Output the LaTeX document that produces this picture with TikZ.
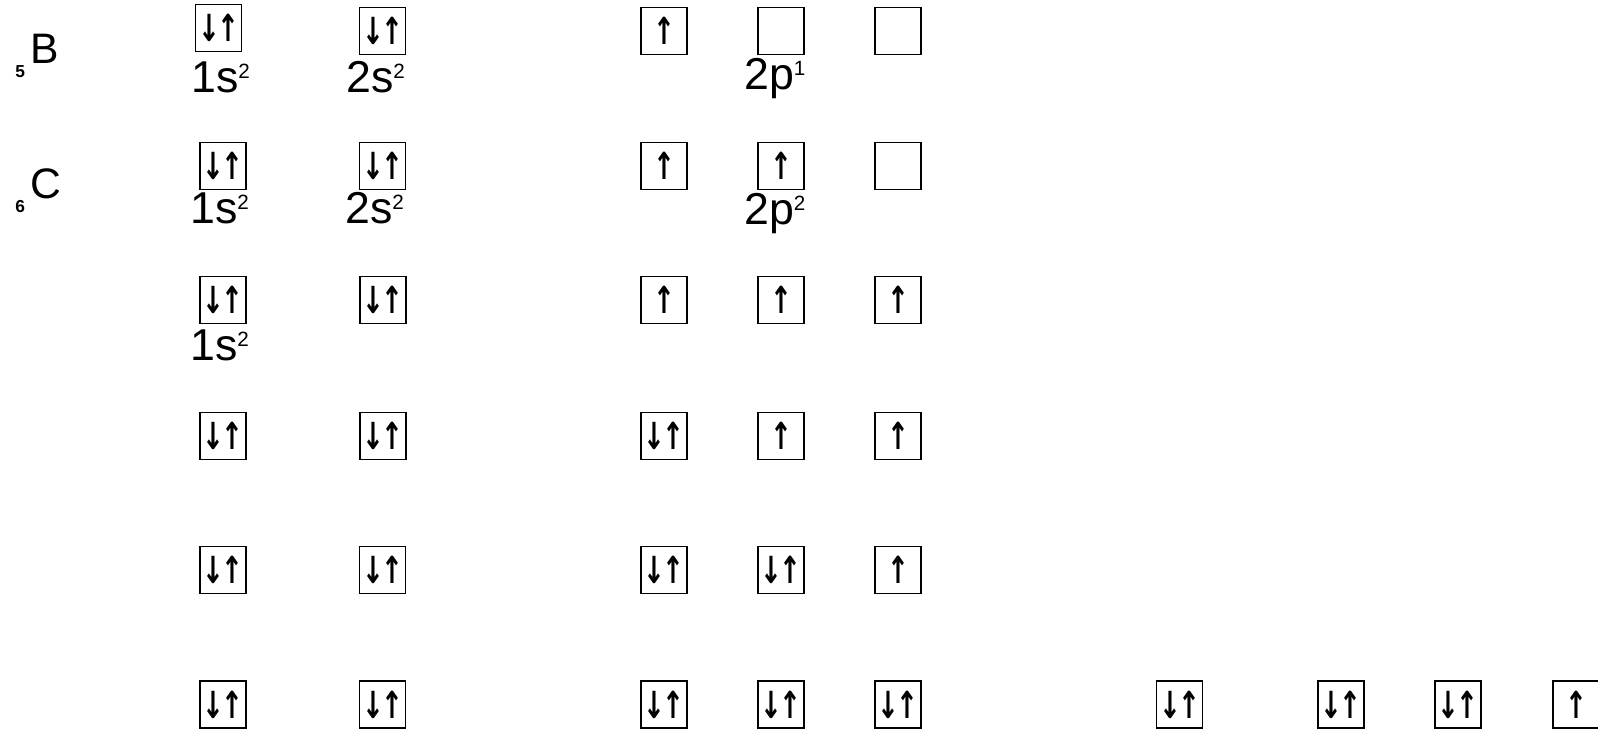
\documentclass[tikz,border=0pt]{standalone}
\usepackage{graphicx}
\usepackage{fontspec}
\setmainfont{Liberation Sans}
\newfontfamily\arrowfont{DejaVu Sans}
\newcommand\orbsup[1]{\raisebox{10.5pt}{\fontsize{15.5}{15.5}\selectfont #1}}
\newcommand\elsub[1]{\raisebox{-10.5pt}{\fontsize{13}{13}\selectfont\bfseries #1}\hspace{4.5pt}}
\newcommand\spin[1]{\scalebox{0.7}[1]{#1}}
\newcommand\up{\spin{↑}}
\newcommand\pair{\makebox[0pt]{\spin{↓}\kern-2.2pt\spin{↑}}}

\begin{document}
\begin{tikzpicture}[x=0.75pt, y=-0.75pt,
  orb/.style={draw, line width=0.9pt, minimum width=34.5pt, minimum height=35.25pt,
    inner sep=0pt, font=\arrowfont\fontsize{28}{28}\selectfont\bfseries},
  shell/.style={anchor=base west, inner sep=0pt, font=\fontsize{33.5}{33.5}\selectfont},
  elem/.style={anchor=base west, inner sep=0pt, font=\fontsize{32}{32}\selectfont}]
  \useasboundingbox (0,0) rectangle (1598,728);
  % boron
  \node[elem] (B) at (15,63) {\elsub{5}B};
  \foreach \n/\x/\y/\s in {1/218.5/28/\pair,2/382.5/31/\pair,3/664/31/\up,4/781/31/,5/898/31/}
    \node[orb] (b\n) at (\x,\y) {\s};
  \node[shell] (b1s) at (191,92) {1s\orbsup{2}};
  \node[shell] (b2s) at (346,92) {2s\orbsup{2}};
  \node[shell] (b2p) at (744,89) {2p\orbsup{1}};
  % carbon
  \node[elem] (C) at (15,198) {\elsub{6}C};
  \foreach \n/\x/\s in {1/223/\pair,2/382.5/\pair,3/664/\up,4/781/\up,5/898/}
    \node[orb] (c\n) at (\x,166) {\s};
  \node[shell] (c1s) at (190,223) {1s\orbsup{2}};
  \node[shell] (c2s) at (345,223) {2s\orbsup{2}};
  \node[shell] (c2p) at (744,224) {2p\orbsup{2}};
  % nitrogen
  \foreach \n/\x/\s in {1/223/\pair,2/383/\pair,3/664/\up,4/781/\up,5/898/\up}
    \node[orb] (n\n) at (\x,300) {\s};
  \node[shell] (n1s) at (190,360) {1s\orbsup{2}};
  % oxygen
  \foreach \n/\x/\s in {1/223/\pair,2/383/\pair,3/664/\pair,4/781/\up,5/898/\up}
    \node[orb] (o\n) at (\x,436) {\s};
  % fluorine
  \foreach \n/\x/\s in {1/223/\pair,2/382.5/\pair,3/664/\pair,4/781/\pair,5/898/\up}
    \node[orb] (f\n) at (\x,570) {\s};
  % neon and beyond
  \foreach \n/\x/\s in {1/223/\pair,2/382.5/\pair,3/664/\pair,4/781/\pair,5/898/\pair,
      6/1179.5/\pair,7/1341/\pair,8/1458/\pair,9/1576/\up}
    \node[orb] (ne\n) at (\x,704.5) {\s};
\end{tikzpicture}
\end{document}
